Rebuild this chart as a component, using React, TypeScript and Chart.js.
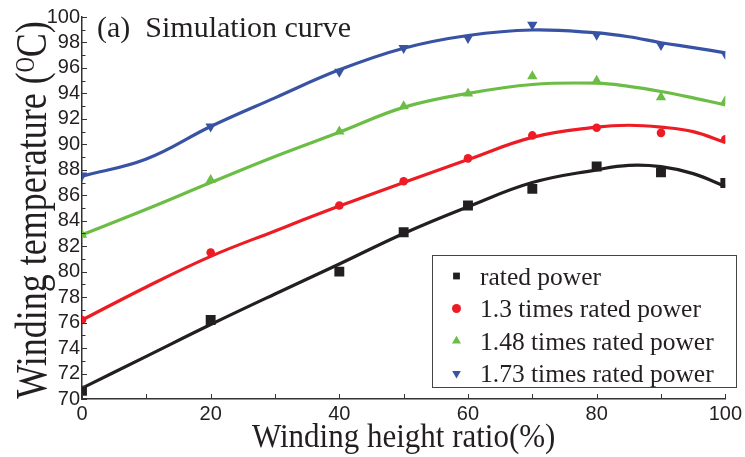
import React, { useEffect, useRef } from 'react';
import { Chart, registerables } from 'chart.js';

Chart.register(...registerables);

// ---- data ----
const markerHeightRatio = [0, 20, 40, 50, 60, 70, 80, 90, 100];
const ratedMarks = [70.65, 76.2, 80.0, 83.1, 85.2, 86.5, 88.26, 87.8, 86.96];
const times13Marks = [76.2, 81.5, 85.2, 87.1, 88.9, 90.7, 91.3, 90.9, 90.4];
const times148Marks = [82.9, 87.2, 91.0, 93.0, 94.0, 95.35, 95.0, 93.7, 93.4];
const times173Marks = [87.55, 91.4, 95.7, 97.57, 98.35, 99.4, 98.6, 97.8, 97.1];

const curveHeightRatio = [0, 10, 20, 30, 40, 50, 60, 70, 80, 85, 90, 95, 100];
const ratedCurve = [70.85, 73.35, 75.85, 78.25, 80.6, 83.0, 85.1, 87.0, 88.0, 88.35, 88.25, 87.7, 86.7];
const times13Curve = [76.2, 78.8, 81.2, 83.2, 85.15, 87.0, 88.8, 90.55, 91.35, 91.5, 91.35, 91.0, 90.15];
const times148Curve = [82.9, 84.9, 87.0, 89.05, 90.95, 92.9, 94.0, 94.7, 94.8, 94.55, 94.15, 93.65, 93.1];
const times173Curve = [87.5, 88.85, 91.4, 93.65, 95.85, 97.55, 98.55, 98.98, 98.75, 98.45, 97.98, 97.6, 97.18];

const seriesLabels = ['rated power', '1.3 times rated power', '1.48 times rated power', '1.73 times rated power'];
const xTickStep = 10;
const xLabelStep = 20;
const yTickStep = 1;
const yLabelStep = 2;
const xTitle = 'Winding height ratio(%)';
const yTitleMain = 'Winding temperature (';
const yTitleSup = 'O';
const yTitleEnd = 'C)';
const annotationText = '(a)  Simulation curve';

// ---- styles ----
const COLORS = ['#231f20', '#ed1c24', '#6cbd45', '#3953a4'];
const POINT_STYLES = ['rect', 'circle', 'triangle', 'triangle'];
const POINT_ROT = [0, 0, 0, 180];
const POINT_R = [7, 4.3, 6, 6];
const TEXT = '#231f20';
const SERIF = '"Liberation Serif", "Times New Roman", serif';
const SANS = '"Liberation Sans", Arial, sans-serif';

function drawMarker(ctx: CanvasRenderingContext2D, style: string, rot: number, x: number, y: number, r: number, color: string) {
  ctx.fillStyle = color;
  ctx.beginPath();
  if (style === 'rect') {
    const s = r * Math.SQRT1_2;
    ctx.rect(x - s, y - s, 2 * s, 2 * s);
  } else if (style === 'circle') {
    ctx.arc(x, y, r, 0, Math.PI * 2);
  } else {
    const d = rot === 180 ? -1 : 1;
    ctx.moveTo(x, y - d * r);
    ctx.lineTo(x + r * 0.866, y + d * r / 2);
    ctx.lineTo(x - r * 0.866, y + d * r / 2);
    ctx.closePath();
  }
  ctx.fill();
}

const decorPlugin = {
  id: 'decor',
  afterDraw(chart: any) {
    const { ctx, chartArea, scales } = chart;
    const xs = scales.x;
    const ys = scales.y;
    ctx.save();
    // inward tick marks
    ctx.strokeStyle = '#333';
    ctx.lineWidth = 1;
    xs.ticks.forEach((t: any) => {
      const px = Math.round(xs.getPixelForValue(t.value)) + 0.5;
      ctx.beginPath();
      ctx.moveTo(px, chartArea.bottom);
      ctx.lineTo(px, chartArea.bottom - 5);
      ctx.stroke();
    });
    ys.ticks.forEach((t: any) => {
      const py = Math.round(ys.getPixelForValue(t.value)) + 0.5;
      const len = t.value % yLabelStep === 0 ? 5 : 3.5;
      ctx.beginPath();
      ctx.moveTo(chartArea.left, py);
      ctx.lineTo(chartArea.left + len, py);
      ctx.stroke();
    });

    ctx.fillStyle = TEXT;
    ctx.textBaseline = 'alphabetic';
    ctx.textAlign = 'left';

    // annotation
    ctx.font = `30px ${SERIF}`;
    ctx.fillText(annotationText, chartArea.left + 15, 36.5);

    // x title
    ctx.save();
    ctx.font = `31px ${SERIF}`;
    const xw = ctx.measureText(xTitle).width;
    ctx.translate((chartArea.left + chartArea.right) / 2, 446.5);
    ctx.scale(1, 1.12);
    ctx.fillText(xTitle, -xw / 2, 0);
    ctx.restore();

    // y title with superscript
    ctx.save();
    const base = 36;
    const supSize = 21;
    ctx.font = `${base}px ${SERIF}`;
    const w1 = ctx.measureText(yTitleMain).width;
    const w3 = ctx.measureText(yTitleEnd).width;
    ctx.font = `${supSize}px ${SERIF}`;
    const w2 = ctx.measureText(yTitleSup).width;
    const total = w1 + w2 + w3;
    ctx.translate(46, (chartArea.top + chartArea.bottom) / 2 + 2);
    ctx.rotate(-Math.PI / 2);
    ctx.scale(1, 1.25);
    let cx = -total / 2;
    ctx.font = `${base}px ${SERIF}`;
    ctx.fillText(yTitleMain, cx, 0);
    cx += w1;
    ctx.font = `${supSize}px ${SERIF}`;
    ctx.fillText(yTitleSup, cx, -10);
    cx += w2;
    ctx.font = `${base}px ${SERIF}`;
    ctx.fillText(yTitleEnd, cx, 0);
    ctx.restore();

    // legend box
    const bx = 432, by = 255, bw = 304, bh = 132;
    ctx.fillStyle = '#ffffff';
    ctx.fillRect(bx, by, bw, bh);
    ctx.strokeStyle = '#444';
    ctx.lineWidth = 1;
    ctx.strokeRect(bx + 0.5, by + 0.5, bw, bh);
    const rowY = [276, 308.5, 341, 373.5];
    const legR = [4.8, 4.5, 5.2, 5];
    ctx.font = `25.5px ${SERIF}`;
    seriesLabels.forEach((lab, i) => {
      drawMarker(ctx, POINT_STYLES[i], POINT_ROT[i], 456.5, rowY[i], legR[i], COLORS[i]);
      ctx.fillStyle = TEXT;
      ctx.fillText(lab, 480, rowY[i] + 8.5);
    });
    ctx.restore();
  },
};

function toPoints(xs: number[], ys: number[]) {
  return xs.map((x, i) => ({ x, y: ys[i] }));
}

export default function App() {
  const ref = useRef<HTMLCanvasElement | null>(null);
  useEffect(() => {
    if (!ref.current) return;
    const curves = [ratedCurve, times13Curve, times148Curve, times173Curve];
    const marks = [ratedMarks, times13Marks, times148Marks, times173Marks];
    const datasets: any[] = [];
    marks.forEach((m, i) => {
      datasets.push({
        label: seriesLabels[i],
        data: toPoints(markerHeightRatio, m),
        showLine: false,
        pointStyle: POINT_STYLES[i],
        pointRotation: POINT_ROT[i],
        pointRadius: POINT_R[i],
        pointBackgroundColor: COLORS[i],
        pointBorderWidth: 0,
        pointBorderColor: COLORS[i],
        order: 0,
      });
    });
    curves.forEach((c, i) => {
      datasets.push({
        label: seriesLabels[i] + ' (simulation)',
        data: toPoints(curveHeightRatio, c),
        showLine: true,
        borderColor: COLORS[i],
        borderWidth: 3.2,
        pointRadius: 0,
        tension: 0.4,
        order: 1,
      });
    });
    const chart = new Chart(ref.current, {
      type: 'scatter',
      data: { datasets },
      options: {
        responsive: false,
        animation: false,
        devicePixelRatio: 1,
        layout: { padding: { left: 0, top: 17, right: 18, bottom: 0 } },
        plugins: { legend: { display: false }, tooltip: { enabled: false } },
        scales: {
          x: {
            type: 'linear',
            min: 0,
            max: 100,
            afterFit: (s: any) => { s.height = 58; },
            grid: { display: false, drawTicks: false },
            border: { display: true, color: '#333', width: 1.5 },
            ticks: {
              stepSize: xTickStep,
              autoSkip: false,
              maxRotation: 0,
              padding: 3,
              color: TEXT,
              font: { family: SANS, size: 20 },
              callback: (v: any) => (v % xLabelStep === 0 ? String(v) : ''),
            },
          },
          y: {
            type: 'linear',
            min: 70,
            max: 100,
            afterFit: (s: any) => { s.width = 82; },
            grid: { display: false, drawTicks: false },
            border: { display: true, color: '#333', width: 1.5 },
            ticks: {
              stepSize: yTickStep,
              autoSkip: false,
              padding: 2,
              color: TEXT,
              font: { family: SANS, size: 20 },
              callback: (v: any) => (v % yLabelStep === 0 ? String(v) : ''),
            },
          },
        },
      },
      plugins: [decorPlugin],
    });
    return () => chart.destroy();
  }, []);
  return (
    <div style={{ position: 'absolute', left: 0, top: 0, width: 745, height: 457, background: '#fff' }}>
      <canvas ref={ref} width={745} height={457} style={{ display: 'block' }} />
    </div>
  );
}
